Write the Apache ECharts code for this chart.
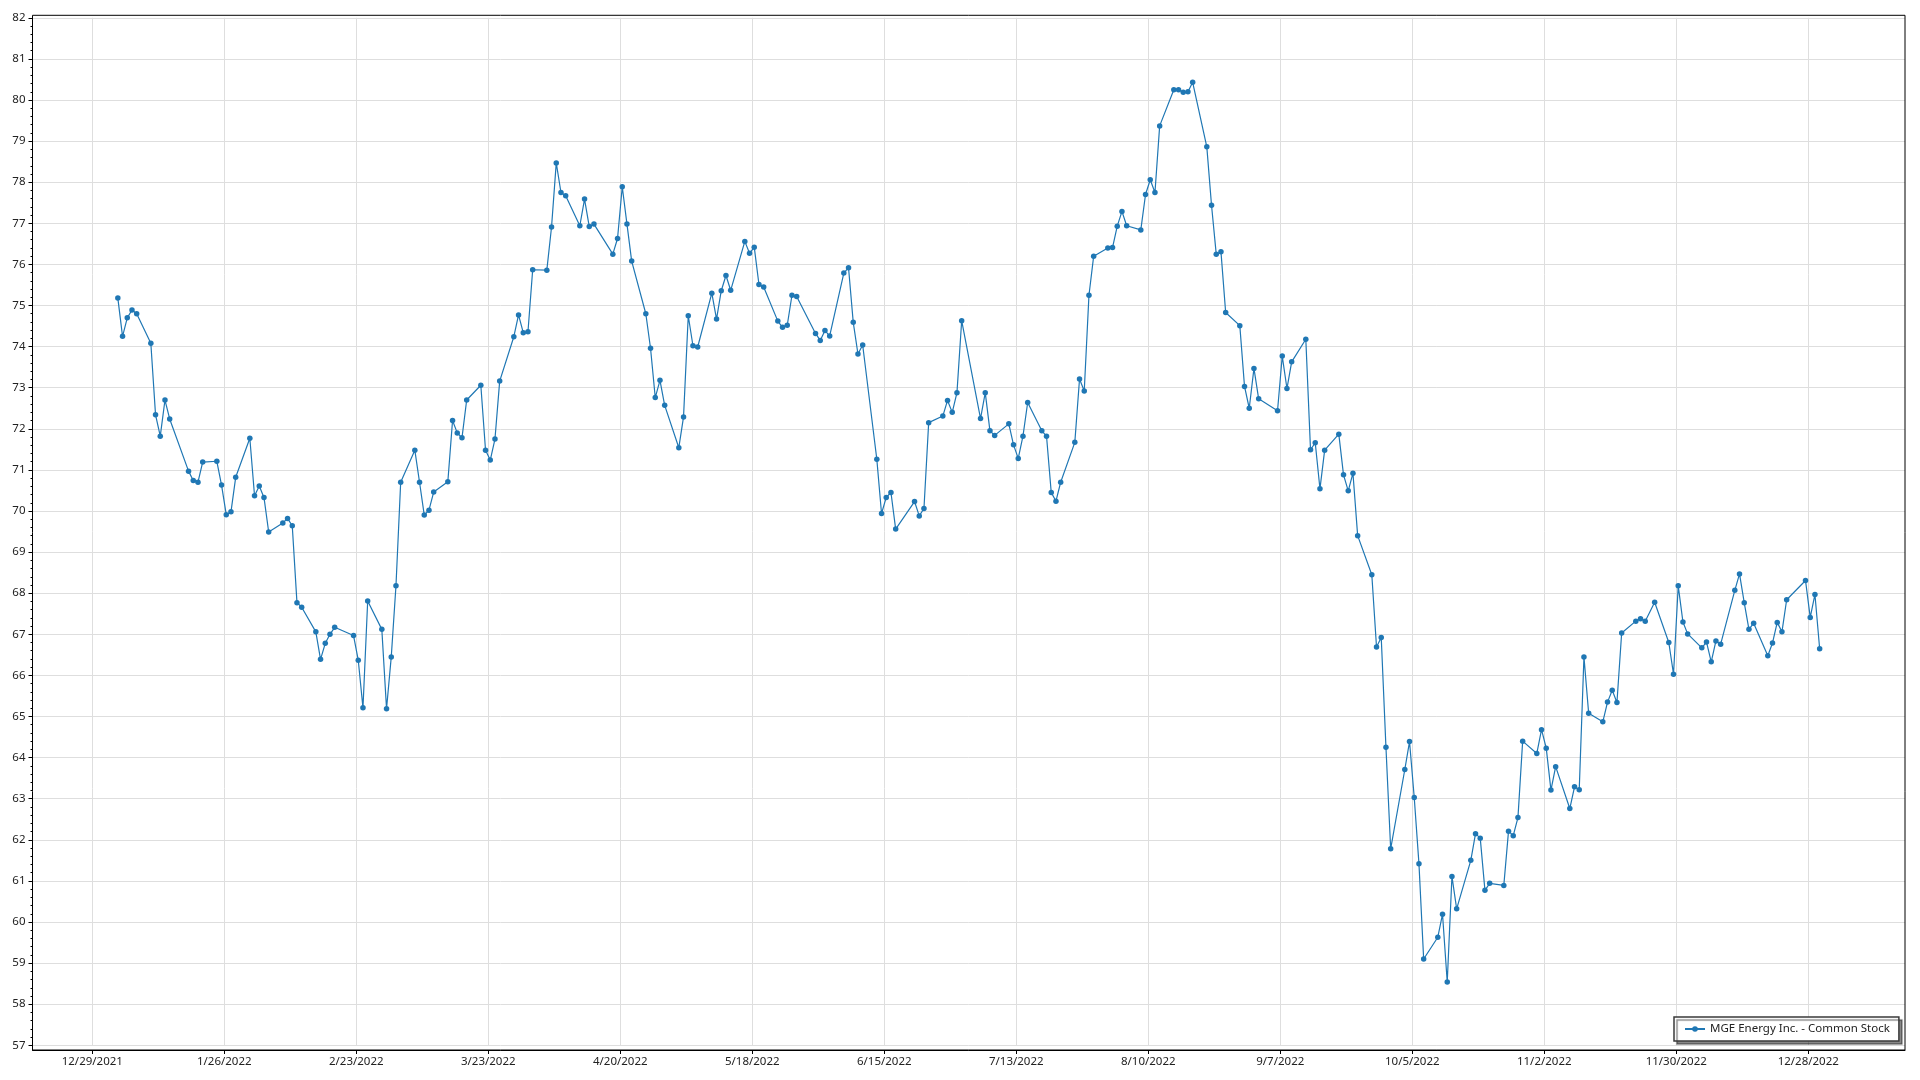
<!DOCTYPE html>
<html>
<head>
<meta charset="utf-8">
<script src="https://cdn.jsdelivr.net/npm/echarts@6/dist/echarts.min.js"></script>
<style>
html,body{margin:0;padding:0;background:#fff;}
#chart{width:1920px;height:1080px;}
</style>
</head>
<body>
<div id="chart"></div>
<script>
const seriesName = 'MGE Energy Inc. - Common Stock';

const dates = [
'2022-01-03','2022-01-04','2022-01-05','2022-01-06','2022-01-07','2022-01-10','2022-01-11','2022-01-12','2022-01-13','2022-01-14',
'2022-01-18','2022-01-19','2022-01-20','2022-01-21','2022-01-24','2022-01-25','2022-01-26','2022-01-27','2022-01-28','2022-01-31',
'2022-02-01','2022-02-02','2022-02-03','2022-02-04','2022-02-07','2022-02-08','2022-02-09','2022-02-10','2022-02-11','2022-02-14',
'2022-02-15','2022-02-16','2022-02-17','2022-02-18','2022-02-22','2022-02-23','2022-02-24','2022-02-25','2022-02-28',
'2022-03-01','2022-03-02','2022-03-03','2022-03-04','2022-03-07','2022-03-08','2022-03-09','2022-03-10','2022-03-11','2022-03-14',
'2022-03-15','2022-03-16','2022-03-17','2022-03-18','2022-03-21','2022-03-22','2022-03-23','2022-03-24','2022-03-25','2022-03-28',
'2022-03-29','2022-03-30','2022-03-31',
'2022-04-01','2022-04-04','2022-04-05','2022-04-06','2022-04-07','2022-04-08','2022-04-11','2022-04-12','2022-04-13','2022-04-14',
'2022-04-18','2022-04-19','2022-04-20','2022-04-21','2022-04-22','2022-04-25','2022-04-26','2022-04-27','2022-04-28','2022-04-29',
'2022-05-02','2022-05-03','2022-05-04','2022-05-05','2022-05-06','2022-05-09','2022-05-10','2022-05-11','2022-05-12','2022-05-13',
'2022-05-16','2022-05-17','2022-05-18','2022-05-19','2022-05-20','2022-05-23','2022-05-24','2022-05-25','2022-05-26','2022-05-27',
'2022-05-31',
'2022-06-01','2022-06-02','2022-06-03','2022-06-06','2022-06-07','2022-06-08','2022-06-09','2022-06-10','2022-06-13','2022-06-14',
'2022-06-15','2022-06-16','2022-06-17','2022-06-21','2022-06-22','2022-06-23','2022-06-24','2022-06-27','2022-06-28','2022-06-29',
'2022-06-30',
'2022-07-01','2022-07-05','2022-07-06','2022-07-07','2022-07-08','2022-07-11','2022-07-12','2022-07-13','2022-07-14','2022-07-15',
'2022-07-18','2022-07-19','2022-07-20','2022-07-21','2022-07-22','2022-07-25','2022-07-26','2022-07-27','2022-07-28','2022-07-29',
'2022-08-01','2022-08-02','2022-08-03','2022-08-04','2022-08-05','2022-08-08','2022-08-09','2022-08-10','2022-08-11','2022-08-12',
'2022-08-15','2022-08-16','2022-08-17','2022-08-18','2022-08-19','2022-08-22','2022-08-23','2022-08-24','2022-08-25','2022-08-26',
'2022-08-29','2022-08-30','2022-08-31',
'2022-09-01','2022-09-02','2022-09-06','2022-09-07','2022-09-08','2022-09-09','2022-09-12','2022-09-13','2022-09-14','2022-09-15',
'2022-09-16','2022-09-19','2022-09-20','2022-09-21','2022-09-22','2022-09-23','2022-09-26','2022-09-27','2022-09-28','2022-09-29',
'2022-09-30',
'2022-10-03','2022-10-04','2022-10-05','2022-10-06','2022-10-07','2022-10-10','2022-10-11','2022-10-12','2022-10-13','2022-10-14',
'2022-10-17','2022-10-18','2022-10-19','2022-10-20','2022-10-21','2022-10-24','2022-10-25','2022-10-26','2022-10-27','2022-10-28',
'2022-10-31',
'2022-11-01','2022-11-02','2022-11-03','2022-11-04','2022-11-07','2022-11-08','2022-11-09','2022-11-10','2022-11-11','2022-11-14',
'2022-11-15','2022-11-16','2022-11-17','2022-11-18','2022-11-21','2022-11-22','2022-11-23','2022-11-25','2022-11-28','2022-11-29',
'2022-11-30',
'2022-12-01','2022-12-02','2022-12-05','2022-12-06','2022-12-07','2022-12-08','2022-12-09','2022-12-12','2022-12-13','2022-12-14',
'2022-12-15','2022-12-16','2022-12-19','2022-12-20','2022-12-21','2022-12-22','2022-12-23','2022-12-27','2022-12-28','2022-12-29',
'2022-12-30'
];

const prices = [
75.18,74.25,74.70,74.89,74.80,74.08,72.34,71.82,72.70,72.24,
70.97,70.74,70.70,71.19,71.21,70.63,69.91,69.98,70.82,71.77,
70.37,70.61,70.33,69.49,69.71,69.82,69.64,67.77,67.66,67.06,
66.39,66.78,67.00,67.17,66.97,66.37,65.21,67.81,67.12,
65.19,66.45,68.18,70.70,71.48,70.70,69.90,70.02,70.46,70.71,
72.20,71.90,71.78,72.70,73.06,71.48,71.24,71.75,73.16,74.24,
74.77,74.34,74.36,
75.87,75.86,76.91,78.47,77.75,77.67,76.94,77.59,76.92,76.98,
76.25,76.63,77.89,76.98,76.08,74.80,73.96,72.76,73.18,72.57,
71.54,72.29,74.75,74.02,73.99,75.30,74.67,75.36,75.73,75.37,
76.56,76.27,76.42,75.51,75.45,74.62,74.47,74.52,75.25,75.22,
74.32,
74.15,74.39,74.26,75.79,75.92,74.59,73.82,74.04,71.26,69.94,
70.33,70.45,69.56,70.23,69.88,70.06,72.15,72.31,72.69,72.40,
72.88,
74.63,72.25,72.88,71.95,71.84,72.12,71.61,71.28,71.82,72.64,
71.95,71.82,70.45,70.24,70.70,71.67,73.21,72.92,75.25,76.20,
76.40,76.41,76.93,77.29,76.94,76.84,77.70,78.06,77.75,79.37,
80.25,80.25,80.19,80.20,80.43,78.86,77.44,76.25,76.31,74.83,
74.51,73.03,72.50,
73.47,72.73,72.44,73.77,72.98,73.63,74.18,71.49,71.66,70.54,
71.48,71.87,70.88,70.49,70.92,69.40,68.45,66.69,66.92,64.25,
61.78,
63.71,64.39,63.03,61.42,59.10,59.63,60.19,58.54,61.11,60.32,
61.50,62.15,62.04,60.77,60.94,60.89,62.21,62.10,62.54,64.40,
64.10,
64.68,64.23,63.21,63.78,62.76,63.29,63.22,66.45,65.08,64.87,
65.35,65.64,65.34,67.03,67.32,67.38,67.32,67.78,66.80,66.03,
68.18,
67.30,67.01,66.67,66.81,66.33,66.84,66.76,68.07,68.47,67.77,
67.12,67.27,66.48,66.79,67.29,67.06,67.84,68.31,67.41,67.97,
66.65
];

const xTickLabels = ['12/29/2021','1/26/2022','2/23/2022','3/23/2022','4/20/2022','5/18/2022','6/15/2022',
  '7/13/2022','8/10/2022','9/7/2022','10/5/2022','11/2/2022','11/30/2022','12/28/2022'];
const yTickMin = 57;
const yTickMax = 82;
const yTickStep = 1;

// plotted sample time within the day (hours)
const POINT_HOUR = 10;
const X_MIN = Date.UTC(2021, 11, 16, 7, 34);
const X_MAX = Date.UTC(2023, 0, 17, 12, 29);

function parseIso(s) {
  const p = s.split('-').map(Number);
  return Date.UTC(p[0], p[1] - 1, p[2], POINT_HOUR);
}
function parseMdy(s) {
  const p = s.split('/').map(Number);
  return Date.UTC(p[2], p[0] - 1, p[1]);
}
function fmtMdy(v) {
  const d = new Date(v);
  return (d.getUTCMonth() + 1) + '/' + d.getUTCDate() + '/' + d.getUTCFullYear();
}

const xTickValues = xTickLabels.map(parseMdy);
const seriesData = dates.map((d, i) => [parseIso(d), prices[i]]);

const FONT = '"Noto Sans", "Open Sans", sans-serif';
const GRID_COLOR = '#dedede';

const chart = echarts.init(document.getElementById('chart'), null, {renderer: 'canvas'});
chart.setOption({
  animation: false,
  backgroundColor: '#ffffff',
  grid: {left: 32.5, right: 15, top: 17.8, bottom: 34.7, containLabel: false},
  xAxis: {
    type: 'value',
    min: X_MIN,
    max: X_MAX,
    offset: 4.7,
    axisLine: {show: true, lineStyle: {color: '#000', width: 1}},
    axisTick: {show: true, length: 4, lineStyle: {color: '#000'}, customValues: xTickValues},
    axisLabel: {
      customValues: xTickValues,
      formatter: fmtMdy,
      margin: 6,
      color: '#222',
      fontFamily: FONT,
      fontSize: 11.5
    },
    splitLine: {show: true, lineStyle: {color: GRID_COLOR, width: 1}},
    minorTick: {show: false}
  },
  yAxis: {
    type: 'value',
    min: yTickMin,
    max: yTickMax,
    interval: yTickStep,
    axisLine: {show: false},
    axisTick: {show: true, length: 4, lineStyle: {color: '#000'}},
    minorTick: {show: true, splitNumber: 5, length: 2, lineStyle: {color: '#000'}},
    axisLabel: {margin: 7, color: '#222', fontFamily: FONT, fontSize: 11.5},
    splitLine: {show: true, lineStyle: {color: GRID_COLOR, width: 1}}
  },
  legend: {
    left: 1674,
    top: 1017,
    orient: 'horizontal',
    padding: [6, 9, 6, 10],
    itemWidth: 20,
    itemHeight: 7,
    backgroundColor: '#fff',
    borderColor: '#3a3a3a',
    borderWidth: 1.5,
    borderRadius: 0,
    shadowColor: 'rgba(0,0,0,0.45)',
    shadowBlur: 1,
    shadowOffsetX: 3,
    shadowOffsetY: 3,
    textStyle: {color: '#222', fontFamily: FONT, fontSize: 11.5},
    data: [seriesName]
  },
  graphic: [{
    type: 'rect',
    z: 100,
    silent: true,
    shape: {x: 32.5, y: 15.3, width: 1872.5, height: 1034.7},
    style: {fill: null, stroke: '#000', lineWidth: 1}
  }],
  series: [{
    name: seriesName,
    type: 'line',
    data: seriesData,
    symbol: 'circle',
    symbolSize: 5.5,
    showAllSymbol: true,
    itemStyle: {color: '#1f77b4'},
    lineStyle: {color: '#1f77b4', width: 1.2},
    emphasis: {disabled: true}
  }]
});
</script>
</body>
</html>
